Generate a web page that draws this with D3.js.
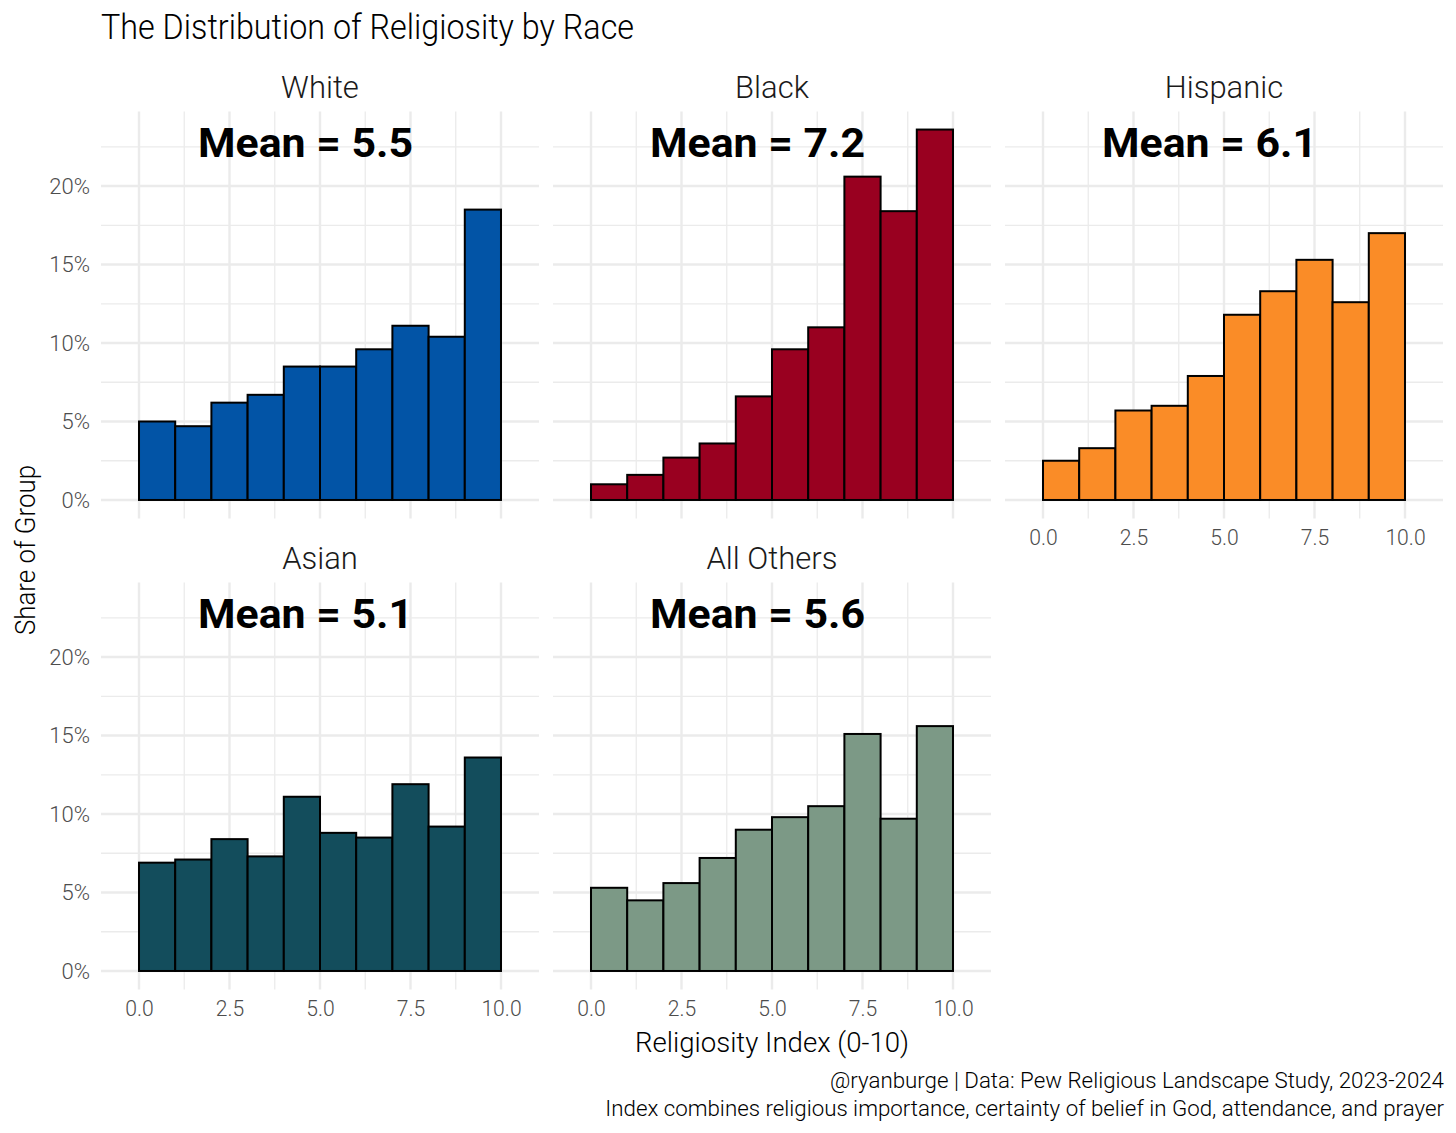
<!DOCTYPE html>
<html>
<head>
<meta charset="utf-8">
<script src="https://cdn.jsdelivr.net/npm/d3@7"></script>
<style>
  body { margin: 0; background: #fff; }
  text { font-family: Roboto, "Noto Sans", sans-serif; font-weight: 300; }
</style>
</head>
<body>
<div id="chart"></div>
<script>
// facet order, means and bin shares (percent of each group)
var groups = ["White", "Black", "Hispanic", "Asian", "All Others"];
var means = [5.5, 7.2, 6.1, 5.1, 5.6];
var binStarts = [0, 1, 2, 3, 4, 5, 6, 7, 8, 9];
var white    = [5.0, 4.7, 6.2, 6.7, 8.5, 8.5, 9.6, 11.1, 10.4, 18.5];
var black    = [1.0, 1.6, 2.7, 3.6, 6.6, 9.6, 11.0, 20.6, 18.4, 23.6];
var hispanic = [2.5, 3.3, 5.7, 6.0, 7.9, 11.8, 13.3, 15.3, 12.6, 17.0];
var asian    = [6.9, 7.1, 8.4, 7.3, 11.1, 8.8, 8.5, 11.9, 9.2, 13.6];
var others   = [5.3, 4.5, 5.6, 7.2, 9.0, 9.8, 10.5, 15.1, 9.7, 15.6];
var colors = ["#0254a6", "#990020", "#fa8c27", "#134d5c", "#7c9986"];
var xTicks = [0, 2.5, 5, 7.5, 10];
var yTicks = [0, 5, 10, 15, 20];

var series = [white, black, hispanic, asian, others];

var W = 1456, H = 1133;
var panelW = 438, panelH = 407;
var colStep = 452, rowTops = [111.5, 582.5], left0 = 101;

var svg = d3.select("#chart").append("svg")
    .attr("width", W)
    .attr("height", H);

// squeeze a text by a factor (the original font is a narrow one)
function squeeze(sel, factor) {
    sel.each(function () {
        var w = this.getComputedTextLength();
        d3.select(this).attr("textLength", w * factor).attr("lengthAdjust", "spacingAndGlyphs");
    });
}
function fitTo(sel, w) {
    sel.attr("textLength", w).attr("lengthAdjust", "spacingAndGlyphs");
}

var x = d3.scaleLinear().domain([-1.05, 11.05]).range([0, panelW]);
var y = d3.scaleLinear().domain([-1.18, 24.75]).range([panelH, 0]);

var grid = "#ebebeb";

groups.forEach(function (name, i) {
    var col = i % 3, row = Math.floor(i / 3);
    var g = svg.append("g")
        .attr("transform", "translate(" + (left0 + col * colStep) + "," + rowTops[row] + ")");

    // minor grid
    g.selectAll(".vmin").data([1.25, 3.75, 6.25, 8.75]).enter().append("line")
        .attr("x1", x).attr("x2", x).attr("y1", 0).attr("y2", panelH)
        .attr("stroke", grid).attr("stroke-width", 1.3);
    g.selectAll(".hmin").data([2.5, 7.5, 12.5, 17.5, 22.5]).enter().append("line")
        .attr("y1", y).attr("y2", y).attr("x1", 0).attr("x2", panelW)
        .attr("stroke", grid).attr("stroke-width", 1.3);
    // major grid
    g.selectAll(".vmaj").data(xTicks).enter().append("line")
        .attr("x1", x).attr("x2", x).attr("y1", 0).attr("y2", panelH)
        .attr("stroke", grid).attr("stroke-width", 2.4);
    g.selectAll(".hmaj").data(yTicks).enter().append("line")
        .attr("y1", y).attr("y2", y).attr("x1", 0).attr("x2", panelW)
        .attr("stroke", grid).attr("stroke-width", 2.4);

    // bars
    var vals = series[i];
    g.selectAll(".bar").data(binStarts).enter().append("rect")
        .attr("x", function (d) { return x(d); })
        .attr("width", function (d) { return x(d + 1) - x(d); })
        .attr("y", function (d, j) { return y(vals[j]); })
        .attr("height", function (d, j) { return y(0) - y(vals[j]); })
        .attr("fill", colors[i])
        .attr("stroke", "#000")
        .attr("stroke-width", 2);

    // mean label
    g.append("text")
        .attr("x", x(4.6))
        .attr("y", y(21.85))
        .attr("text-anchor", "middle")
        .style("font-weight", "bold")
        .style("font-size", "41px")
        .attr("fill", "#000")
        .text("Mean = " + means[i].toFixed(1))
        .call(fitTo, 215);

    // strip label
    g.append("text")
        .attr("x", panelW / 2)
        .attr("y", -14)
        .attr("text-anchor", "middle")
        .style("font-size", "31px")
        .attr("fill", "#1a1a1a")
        .text(name);

    // y axis on first column
    if (col === 0) {
        var ya = g.append("g")
            .call(d3.axisLeft(y).tickValues(yTicks).tickSize(0).tickPadding(11)
                .tickFormat(function (d) { return d + "%"; }));
        ya.select(".domain").remove();
        ya.selectAll("text").style("font-size", "22px").attr("fill", "#4d4d4d")
            .style("font-family", null);
    }
    // x axis on bottom of each column
    if (row === 1 || col === 2) {
        var xa = g.append("g")
            .attr("transform", "translate(0," + panelH + ")")
            .call(d3.axisBottom(x).tickValues(xTicks).tickSize(0).tickPadding(11)
                .tickFormat(d3.format(".1f")));
        xa.select(".domain").remove();
        xa.selectAll("text").style("font-size", "22px").attr("fill", "#4d4d4d")
            .style("font-family", null).call(squeeze, 0.96);
    }
});

// title
svg.append("text")
    .attr("x", 101).attr("y", 39)
    .style("font-size", "35px")
    .attr("fill", "#000")
    .text("The Distribution of Religiosity by Race")
    .call(fitTo, 533);

// axis titles
svg.append("text")
    .attr("x", 772).attr("y", 1052)
    .attr("text-anchor", "middle")
    .style("font-size", "28px")
    .attr("fill", "#000")
    .text("Religiosity Index (0-10)")
    .call(fitTo, 274);

svg.append("text")
    .attr("transform", "translate(35,550) rotate(-90)")
    .attr("text-anchor", "middle")
    .style("font-size", "28px")
    .attr("fill", "#000")
    .text("Share of Group")
    .call(fitTo, 170);

// caption
svg.append("text")
    .attr("x", 1444).attr("y", 1088)
    .attr("text-anchor", "end")
    .style("font-size", "22.3px")
    .attr("fill", "#000")
    .text("@ryanburge | Data: Pew Religious Landscape Study, 2023-2024");
svg.append("text")
    .attr("x", 1444).attr("y", 1116)
    .attr("text-anchor", "end")
    .style("font-size", "22.3px")
    .attr("fill", "#000")
    .text("Index combines religious importance, certainty of belief in God, attendance, and prayer");
</script>
</body>
</html>
